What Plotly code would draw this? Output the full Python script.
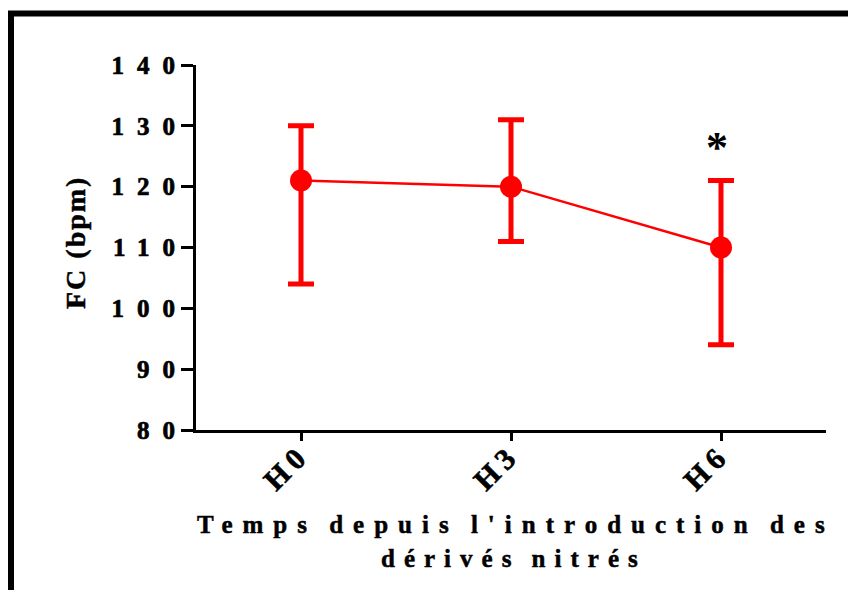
import plotly.graph_objects as go

categories = ["H0", "H3", "H6"]
mean_fc = [121, 120, 110]
err_plus = [9, 11, 11]
err_minus = [17, 9, 16]
y_ticks = [80, 90, 100, 110, 120, 130, 140]
signif_label = "*"
signif_index = 2
signif_y = 126.4

xpos = list(range(len(categories)))
RED = "#FF0000"
FONT = "Liberation Serif, Times New Roman, serif"

fig = go.Figure()
fig.add_trace(go.Scatter(
    x=xpos, y=mean_fc, mode="lines+markers",
    line=dict(color=RED, width=2.5),
    marker=dict(color=RED, size=22, symbol="circle"),
    error_y=dict(type="data", symmetric=False, array=err_plus, arrayminus=err_minus,
                 color=RED, thickness=5, width=13),
    showlegend=False, cliponaxis=False,
))

fig.add_annotation(x=xpos[signif_index], y=signif_y, text=signif_label, showarrow=False,
                   font=dict(family=FONT, size=44, color="black", weight="bold"),
                   xanchor="center", yanchor="middle", xshift=-4)

L, R, T, B = 196, 22, 65, 160
W, H = 848, 590
pw, ph = W - L - R, H - T - B

def px(xp):
    return (xp - L) / pw

def py(yp):
    return (H - B - yp) / ph

# y axis title
fig.add_annotation(xref="paper", yref="paper", x=px(75), y=py(242), text="FC (bpm)",
                   textangle=-90, showarrow=False, xanchor="center", yanchor="middle",
                   font=dict(family=FONT, size=28, color="black", weight="bold"))
# x axis title (two lines)
fig.add_annotation(xref="paper", yref="paper", x=px(516), y=py(524),
                   text="Temps depuis l'introduction des", showarrow=False,
                   xanchor="center", yanchor="middle",
                   font=dict(family=FONT, size=25, color="black", weight="bold"))
fig.add_annotation(xref="paper", yref="paper", x=px(514), y=py(558),
                   text="dérivés nitrés", showarrow=False,
                   xanchor="center", yanchor="middle",
                   font=dict(family=FONT, size=25, color="black", weight="bold"))

# outer frame (top and left)
fig.add_shape(type="line", xref="paper", yref="paper", x0=px(8), x1=px(860), y0=py(13.5), y1=py(13.5),
              line=dict(color="black", width=6))
fig.add_shape(type="line", xref="paper", yref="paper", x0=px(11), x1=px(11), y0=py(11), y1=py(600),
              line=dict(color="black", width=6))

fig.update_layout(
    width=W, height=H,
    margin=dict(l=L, r=R, t=T, b=B),
    paper_bgcolor="white", plot_bgcolor="white",
    font=dict(family=FONT, color="black"),
    xaxis=dict(range=[-0.5, 2.5], tickvals=xpos, ticktext=categories,
               showline=True, linecolor="black", linewidth=3, showgrid=False, zeroline=False,
               ticks="outside", ticklen=8, tickwidth=3, tickcolor="black", tickangle=-45,
               ticklabelstandoff=-16,
               tickfont=dict(family=FONT, size=30, color="black", weight="bold")),
    yaxis=dict(range=[80, 140], tickvals=y_ticks,
               showline=True, linecolor="black", linewidth=3, showgrid=False, zeroline=False,
               ticks="outside", ticklen=12, tickwidth=3, tickcolor="black",
               tickfont=dict(family=FONT, size=25, color="black", weight="bold")),
)

YLS = 13
css = (".ytick text{letter-spacing:%dpx;stroke:black;stroke-width:0.7px;} "
       ".xtick text{letter-spacing:6px;stroke:black;stroke-width:0.6px;}" % YLS)
post = ("var s=document.createElement('style');s.textContent=" + repr(css) + ";"
        "document.head.appendChild(s);"
        "document.querySelectorAll('.ytick text').forEach(function(t){"
        "var x=parseFloat(t.getAttribute('x')||'0');t.setAttribute('x',x+%d);});"
        "var a=document.querySelectorAll('.annotation-text');"
        "a.forEach(function(t){var tx=t.textContent;"
        "if(tx.indexOf('Temps')===0){t.style.letterSpacing='10px';t.style.wordSpacing='-4px';t.style.stroke='black';t.style.strokeWidth='0.5px';}"
        "else if(tx.indexOf('d\\u00e9riv')===0){t.style.letterSpacing='9px';t.style.wordSpacing='-4px';t.style.stroke='black';t.style.strokeWidth='0.5px';}"
        "else if(tx.indexOf('FC')===0){t.style.letterSpacing='2px';t.style.stroke='black';t.style.strokeWidth='0.5px';}});") % (YLS - 1)

fig.write_html("out.html", post_script=post)
